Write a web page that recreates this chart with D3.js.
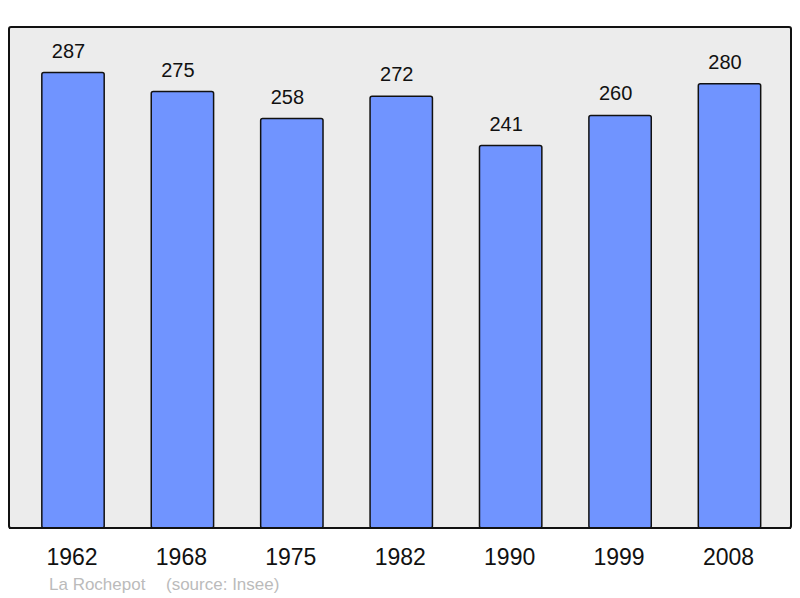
<!DOCTYPE html>
<html>
<head>
<meta charset="utf-8">
<script src="https://cdn.jsdelivr.net/npm/d3@7"></script>
<style>
  body { margin: 0; background: #fff; }
  svg { display: block; font-family: "Liberation Sans", Arial, sans-serif; }
</style>
</head>
<body>
<svg id="chart" width="800" height="598"></svg>
<script>
var years = ["1962", "1968", "1975", "1982", "1990", "1999", "2008"];
var population = [287, 275, 258, 272, 241, 260, 280];
var caption = "La Rochepot";
var source = "(source: Insee)";

var panel = { left: 9, top: 27, right: 791, bottom: 528 };

var svg = d3.select("#chart");

var xScale = d3.scaleBand()
    .domain(years)
    .range([18.3, 784.2])
    .paddingInner(0.43)
    .paddingOuter(0.215);

var yScale = d3.scaleLinear()
    .domain([0, 315.7])
    .range([panel.bottom, panel.top]);

// background panel
svg.append("rect")
    .attr("x", panel.left)
    .attr("y", panel.top)
    .attr("width", panel.right - panel.left)
    .attr("height", panel.bottom - panel.top)
    .attr("rx", 2)
    .attr("fill", "#ececec")
    .attr("stroke", "#111")
    .attr("stroke-width", 2);

var bars = svg.append("g");
years.forEach(function(year, i) {
    bars.append("rect")
        .attr("x", xScale(year))
        .attr("y", yScale(population[i]))
        .attr("width", xScale.bandwidth())
        .attr("height", yScale(0) - yScale(population[i]))
        .attr("rx", 2)
        .attr("fill", "#7094ff")
        .attr("stroke", "#111")
        .attr("stroke-width", 1.5);

    // value labels sit a little left of the bar centre
    bars.append("text")
        .attr("x", xScale(year) + xScale.bandwidth() / 2 - 4.5)
        .attr("y", yScale(population[i]) - 15)
        .attr("text-anchor", "middle")
        .attr("font-size", 20)
        .attr("fill", "#111")
        .text(population[i]);

    svg.append("text")
        .attr("x", xScale(year) + xScale.bandwidth() / 2 - 1)
        .attr("y", 565)
        .attr("text-anchor", "middle")
        .attr("font-size", 23)
        .attr("fill", "#111")
        .text(year);
});

// redraw bottom edge of the panel over the bars
svg.append("line")
    .attr("x1", panel.left)
    .attr("x2", panel.right)
    .attr("y1", panel.bottom)
    .attr("y2", panel.bottom)
    .attr("stroke", "#111")
    .attr("stroke-width", 2);

svg.append("text")
    .attr("x", 49)
    .attr("y", 590)
    .attr("font-size", 17)
    .attr("fill", "#bbb")
    .text(caption);
svg.append("text")
    .attr("x", 166)
    .attr("y", 590)
    .attr("font-size", 17)
    .attr("fill", "#bbb")
    .text(source);
</script>
</body>
</html>
